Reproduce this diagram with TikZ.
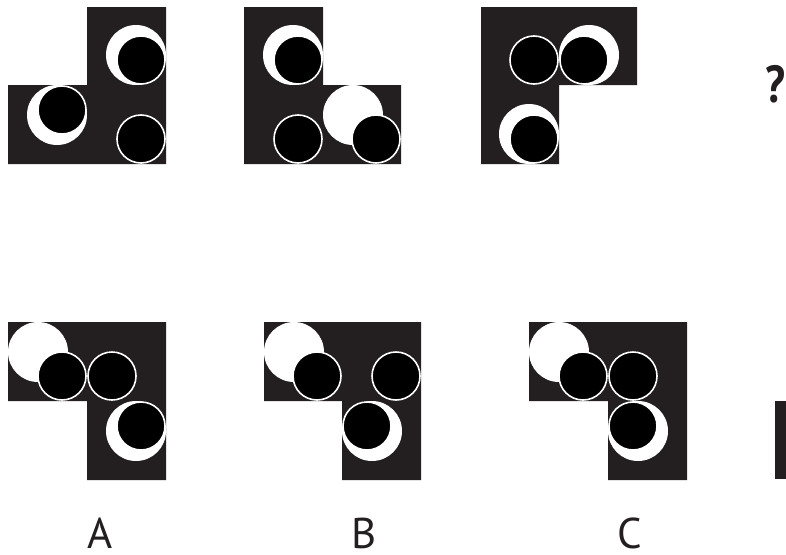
\documentclass[tikz,border=0pt]{standalone}
\usepackage{fontspec}
\setmainfont{PT Sans}
\definecolor{tile}{HTML}{231F20}
\definecolor{ink}{HTML}{231F20}
\tikzset{
  tileshape/.style={fill=tile, draw=none},
  halo/.style={fill=white, draw=none},
  disc/.style={fill=black, draw=white, line width=1.6pt},
  lbl/.style={font=\fontsize{43}{43}\selectfont, text=ink, inner sep=0pt, anchor=center},
}
\begin{document}
\begin{tikzpicture}[x=1pt,y=-1pt]
\useasboundingbox (0,0) rectangle (786,554);
% ---------- Figure 1 ----------
\fill[tileshape] (87,7) -- (166,7) -- (166,164) -- (8,164) -- (8,85) -- (87,85) -- cycle;
\fill[halo] (136,55) circle (30);
\draw[disc] (141,60) circle (24);
\draw[disc] (141,139) circle (24);
\fill[halo] (57,115) circle (30);
\draw[disc] (62,110) circle (24);
% ---------- Figure 2 ----------
\fill[tileshape] (244,7) -- (323,7) -- (323,85) -- (401,85) -- (401,164) -- (244,164) -- cycle;
\fill[halo] (293,55) circle (30);
\draw[disc] (298,60) circle (24);
\draw[disc] (298,139) circle (24);
\fill[halo] (353,115) circle (30);
\draw[disc] (376,139) circle (24);
% ---------- Figure 3 ----------
\fill[tileshape] (481,7) -- (637,7) -- (637,85) -- (559,85) -- (559,164) -- (481,164) -- cycle;
\draw[disc] (534,60) circle (24);
\fill[halo] (589,55) circle (30);
\draw[disc] (584,60) circle (24);
\fill[halo] (529,134) circle (30);
\draw[disc] (534,139) circle (24);
% ---------- question mark ----------
\node[lbl, font=\fontsize{52}{52}\selectfont\bfseries, xscale=0.85] (q) at (776,84) {?};
% ---------- Option A ----------
\fill[tileshape] (8,322) -- (166,322) -- (166,480) -- (87,480) -- (87,401) -- (8,401) -- cycle;
\fill[halo] (38,352) circle (30);
\draw[disc] (62,376) circle (24);
\draw[disc] (112,376) circle (24);
\fill[halo] (136,431) circle (30);
\draw[disc] (141,426) circle (24);
% ---------- Option B ----------
\fill[tileshape] (264,322) -- (421,322) -- (421,480) -- (342,480) -- (342,401) -- (264,401) -- cycle;
\fill[halo] (294,352) circle (30);
\draw[disc] (317,376) circle (24);
\draw[disc] (396,376) circle (24);
\fill[halo] (372,431) circle (30);
\draw[disc] (367,426) circle (24);
% ---------- Option C ----------
\fill[tileshape] (529,322) -- (687,322) -- (687,480) -- (608,480) -- (608,401) -- (529,401) -- cycle;
\fill[halo] (559,352) circle (30);
\draw[disc] (583,376) circle (24);
\draw[disc] (633,376) circle (24);
\fill[halo] (638,431) circle (30);
\draw[disc] (633,426) circle (24);
% ---------- partial tile at right edge ----------
\fill[tileshape] (775,401) rectangle (786,479);
% ---------- labels ----------
\node[lbl] (la) at (100,533) {A};
\node[lbl] (lb) at (364,533) {B};
\node[lbl] (lc) at (630,533) {C};
\end{tikzpicture}
\end{document}
